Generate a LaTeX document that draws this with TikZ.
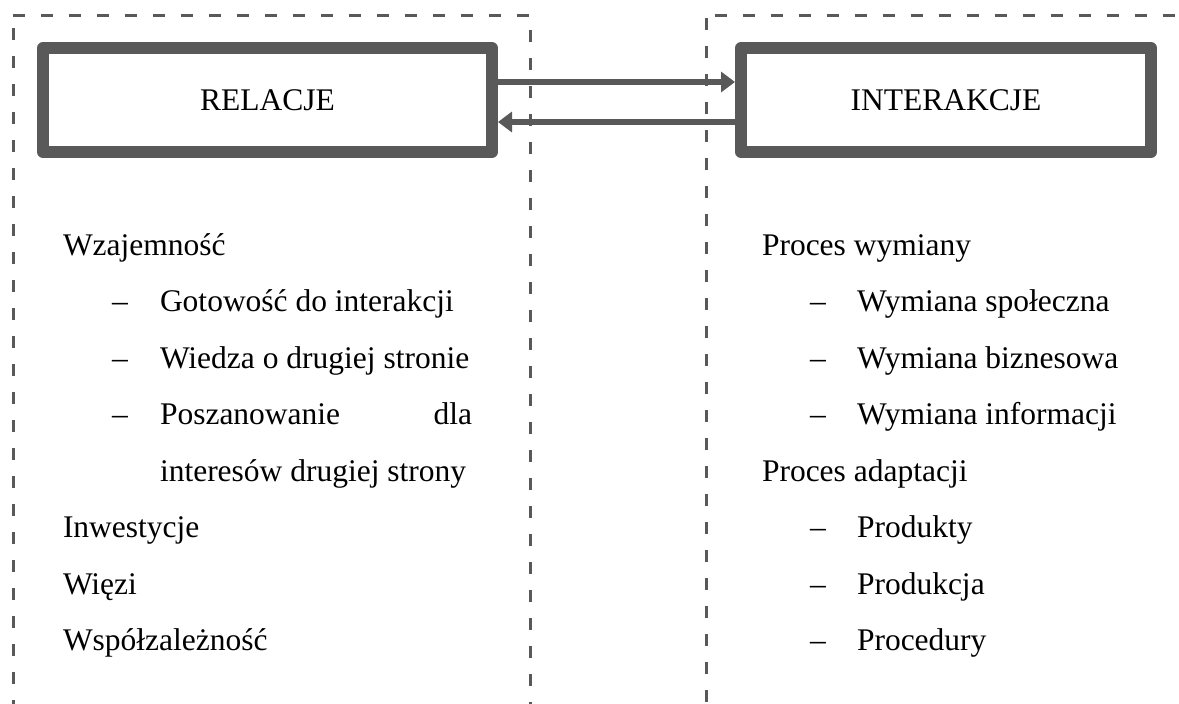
\documentclass[tikz,border=0pt]{standalone}
\usepackage{fontspec}
\setmainfont{Liberation Serif}
\usetikzlibrary{arrows.meta}
\definecolor{framegray}{HTML}{595959}
\begin{document}
\begin{tikzpicture}[x=1pt,y=-1pt,
  every node/.style={inner sep=0pt, outer sep=0pt, font=\fontsize{31.5}{38}\selectfont},
  panel/.style={draw=framegray, line width=3pt, dash pattern=on 12pt off 16pt},
  titlebox/.style={draw=framegray, line width=12pt, line join=round, outer sep=6pt,
    minimum width=449pt, minimum height=104pt, fill=white},
  conn/.style={draw=framegray, line width=6pt, -{Triangle[length=14pt,width=20pt]}},
  item/.style={anchor=base west},
  bullet/.style={anchor=base west}]
\useasboundingbox (0,0) rectangle (1179,704);
\clip (0,0) rectangle (1179,704);

% dashed panels
\draw[panel] (13,15) -- (530,15) -- (530,720);
\draw[panel] (13,28) -- (13,720);
\draw[panel] (706,18) -- (706,720);
\draw[panel] (715,15) -- (1190,15);

% title boxes
\node[titlebox] (relacje) at (267.5,100) {RELACJE};
\node[titlebox, minimum width=410pt] (interakcje) at (946,100) {INTERAKCJE};

% connectors
\coordinate (upper) at (0,82);
\coordinate (lower) at (0,122);
\draw[conn] (relacje.east |- upper) -- (interakcje.west |- upper);
\draw[conn] (interakcje.west |- lower) -- (relacje.east |- lower);

% left column
\node[item] (l1) at (63,255) {Wzajemność};
\node[bullet] (l2d) at (112,311.5) {\textendash};
\node[item] (l2) at (160,311.5) {Gotowość do interakcji};
\node[bullet] (l3d) at (112,368) {\textendash};
\node[item] (l3) at (160,368) {Wiedza o drugiej stronie};
\node[bullet] (l4d) at (112,424.5) {\textendash};
\node[item] (l4) at (160,424.5) {\makebox[312pt][s]{Poszanowanie\hfill dla}};
\node[item] (l5) at (160,481) {interesów drugiej strony};
\node[item] (l6) at (63,537.5) {Inwestycje};
\node[item] (l7) at (63,594) {Więzi};
\node[item] (l8) at (63,650.5) {Współzależność};

% right column
\node[item] (r1) at (762,255) {Proces wymiany};
\node[bullet] (r2d) at (810,311.5) {\textendash};
\node[item] (r2) at (857,311.5) {Wymiana społeczna};
\node[bullet] (r3d) at (810,368) {\textendash};
\node[item] (r3) at (857,368) {Wymiana biznesowa};
\node[bullet] (r4d) at (810,424.5) {\textendash};
\node[item] (r4) at (857,424.5) {Wymiana informacji};
\node[item] (r5) at (762,481) {Proces adaptacji};
\node[bullet] (r6d) at (810,537.5) {\textendash};
\node[item] (r6) at (857,537.5) {Produkty};
\node[bullet] (r7d) at (810,594) {\textendash};
\node[item] (r7) at (857,594) {Produkcja};
\node[bullet] (r8d) at (810,650.5) {\textendash};
\node[item] (r8) at (857,650.5) {Procedury};
\end{tikzpicture}
\end{document}
